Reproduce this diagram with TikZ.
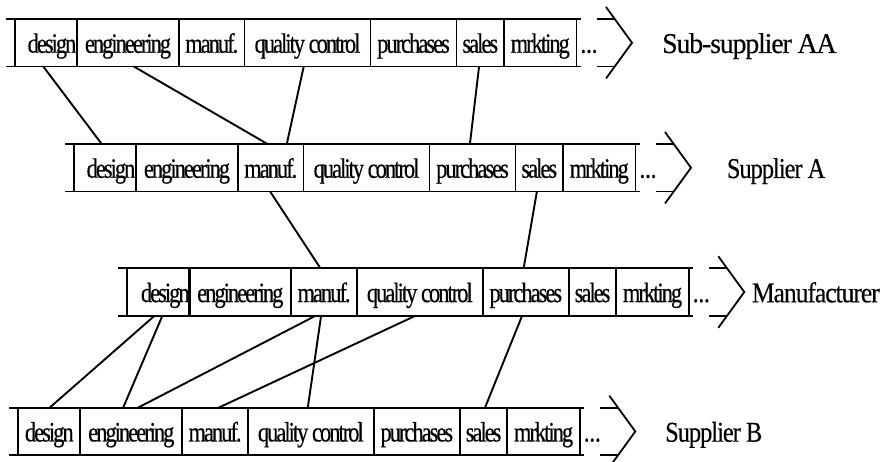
\documentclass[tikz,border=0pt]{standalone}
\usepackage{fontspec}
\usepackage{graphicx}
\usetikzlibrary{calc}
\newfontfamily\cellfont[FakeStretch=0.8,LetterSpace=-7,FakeBold=0.4]{Liberation Serif}
\newfontfamily\dotfont[FakeStretch=0.8,FakeBold=0.8]{Liberation Serif}
\newfontfamily\labfont[FakeStretch=0.85,LetterSpace=-3.5,FakeBold=0.3]{Liberation Serif}
\tikzset{
  boxline/.style={line width=1.8pt},
  link/.style={line width=1.9pt},
  cell/.style={draw, line width=1.8pt, minimum height=47.5pt, inner sep=0pt, outer sep=0pt,
    text height=20pt, text depth=0pt, font=\cellfont\fontsize{28}{30}\selectfont},
  dotsnode/.style={inner sep=0pt, anchor=base, font=\dotfont\fontsize{28}{30}\selectfont},
  rowlabel/.style={inner sep=0pt, anchor=base west, font=\labfont\fontsize{28.7}{30}\selectfont},
}
% #1 name, #2 x0, #3 ytop, #4 label, #5 label x (relative), #6 design text shift
\newcommand\supplyrow[6]{%
  \begin{scope}[shift={(#2,#3)}]
    \draw[boxline] (-9,0) -- (566,0) (-9,47.5) -- (566,47.5);
    \node[cell, minimum width=62pt]   (#1-d) at (31,23.75)     {\hspace*{#6}design};
    \node[cell, minimum width=102pt]  (#1-e) at (113,23.75)    {engineering};
    \node[cell, minimum width=65.5pt] (#1-m) at (196.75,23.75) {manuf.};
    \node[cell, minimum width=126pt]  (#1-q) at (292.5,23.75)  {quality control};
    \node[cell, minimum width=86pt]   (#1-p) at (398.5,23.75)  {purchases};
    \node[cell, minimum width=47.5pt] (#1-s) at (465.25,23.75) {sales};
    \node[cell, minimum width=72.5pt] (#1-k) at (525.25,23.75) {mrkting};
    \node[dotsnode] (#1-x) at (574,33.75) {...};
    \draw[boxline] (581.5,0) -- (599.7,0) (581.5,47.5) -- (599.7,47.5);
    \draw[boxline, line join=miter] (591,-12) -- (617,23.75) -- (591,59.5);
    \node[rowlabel] (#1-l) at (#5,34) {#4};
  \end{scope}}
\newcommand\linkcells[4]{%
  \draw[link] ($(#1.south west)!#2!(#1.south east)$) -- ($(#3.north west)!#4!(#3.north east)$);}
\begin{document}
\begin{tikzpicture}[x=1pt,y=-1pt]
  \useasboundingbox (0,0) rectangle (880,462);
  \fill[white] (0,0) rectangle (880,462);
  \clip (0,0) rectangle (880,462);
  \supplyrow{r1}{15}{19}{\scalebox{1.14}[1]{Sub-supplier AA}}{647}{12pt}
  \supplyrow{r2}{74}{144}{Supplier A}{652.7}{12pt}
  \supplyrow{r3}{127.3}{268.3}{\scalebox{1.05}[1]{Manufacturer}}{624.4}{14pt}
  \supplyrow{r4}{18.3}{407.7}{Supplier B}{646.7}{0pt}
  \linkcells{r1-d}{0.456}{r2-d}{0.447}
  \linkcells{r1-e}{0.557}{r2-m}{0.45}
  \linkcells{r1-q}{0.47}{r2-m}{0.745}
  \linkcells{r1-s}{0.475}{r2-p}{0.47}
  \linkcells{r2-m}{0.49}{r3-m}{0.445}
  \linkcells{r2-s}{0.45}{r3-p}{0.475}
  \linkcells{r3-d}{0.44}{r4-d}{0.505}
  \linkcells{r3-d}{0.565}{r4-e}{0.42}
  \linkcells{r3-m}{0.37}{r4-e}{0.565}
  \linkcells{r3-m}{0.455}{r4-q}{0.476}
  \linkcells{r3-q}{0.465}{r4-m}{0.554}
  \linkcells{r3-p}{0.457}{r4-s}{0.53}
\end{tikzpicture}
\end{document}
